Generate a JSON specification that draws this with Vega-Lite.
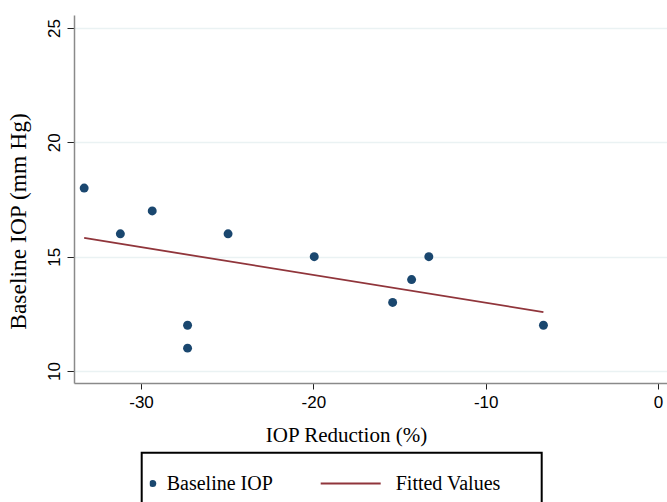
{
  "$schema": "https://vega.github.io/schema/vega-lite/v6.json",
  "width": 593,
  "height": 368,
  "autosize": {"type": "none"},
  "padding": {"left": 74, "top": 15, "right": 0, "bottom": 119},
  "background": "white",
  "config": {
    "view": {"stroke": null},
    "legend": {"strokeWidth": 2},
    "axis": {
      "labelColor": "black",
      "titleColor": "black",
      "titleFontWeight": "normal",
      "tickColor": "#222222",
      "domainColor": "#8a8a8a",
      "domainWidth": 1.5
    }
  },
  "data": {
    "values": [
      {"reduction": -33.3, "iop": 18},
      {"reduction": -31.2, "iop": 16},
      {"reduction": -29.35, "iop": 17},
      {"reduction": -27.3, "iop": 12},
      {"reduction": -27.3, "iop": 11},
      {"reduction": -24.95, "iop": 16},
      {"reduction": -19.95, "iop": 15},
      {"reduction": -15.4, "iop": 13},
      {"reduction": -14.3, "iop": 14},
      {"reduction": -13.3, "iop": 15},
      {"reduction": -6.65, "iop": 12}
    ]
  },
  "layer": [
    {
      "mark": {"type": "point", "filled": true, "size": 80, "opacity": 1},
      "encoding": {
        "x": {
          "field": "reduction",
          "type": "quantitative",
          "scale": {"domain": [-33.89, 0.52], "nice": false, "zero": false},
          "axis": {
            "title": "IOP Reduction (%)",
            "values": [-30, -20, -10, 0],
            "labelExpr": "replace(datum.label, '\u2212', '-')",
            "grid": false,
            "tickSize": 6,
            "labelFont": "Liberation Sans",
            "labelFontSize": 17,
            "labelPadding": 5,
            "titleFont": "Liberation Serif",
            "titleFontSize": 21,
            "titleX": 272,
            "titleY": 52,
            "titleAlign": "center",
            "titleBaseline": "middle"
          }
        },
        "y": {
          "field": "iop",
          "type": "quantitative",
          "scale": {"domain": [9.475, 25.57], "nice": false, "zero": false},
          "axis": {
            "title": "Baseline IOP (mm Hg)",
            "values": [10, 15, 20, 25],
            "grid": true,
            "gridColor": "#eaf2f3",
            "gridWidth": 1.5,
            "tickSize": 7,
            "labelFont": "Liberation Sans",
            "labelFontSize": 17,
            "labelAngle": -90,
            "labelAlign": "center",
            "labelBaseline": "bottom",
            "labelPadding": 4,
            "titleFont": "Liberation Serif",
            "titleFontSize": 23.5,
            "titleAngle": -90,
            "titleX": -56,
            "titleY": 206,
            "titleAlign": "center",
            "titleBaseline": "middle"
          }
        },
        "fill": {
          "datum": "Baseline IOP",
          "type": "nominal",
          "scale": {"domain": ["Baseline IOP"], "range": ["#1a476f"]},
          "legend": {
            "title": " ",
            "titleOrient": "right",
            "titleFontSize": 20,
            "titlePadding": 261,
            "orient": "none",
            "legendX": 67.7,
            "legendY": 437.7,
            "padding": 8,
            "strokeColor": "black",
            "clipHeight": 45.6,
            "symbolType": "circle",
            "symbolSize": 50,
            "symbolOffset": -7,
            "labelOffset": 4,
            "labelFont": "Liberation Serif",
            "labelFontSize": 20,
            "labelColor": "black",
            "labelLimit": 300
          }
        }
      }
    },
    {
      "transform": [{"regression": "iop", "on": "reduction"}],
      "mark": {"type": "line", "strokeWidth": 1.8},
      "encoding": {
        "x": {"field": "reduction", "type": "quantitative"},
        "y": {"field": "iop", "type": "quantitative"},
        "stroke": {
          "datum": "Fitted Values",
          "type": "nominal",
          "scale": {"domain": ["Fitted Values"], "range": ["#90353b"]},
          "legend": {
            "title": null,
            "orient": "none",
            "legendX": 245.7,
            "legendY": 445.7,
            "padding": 0,
            "clipHeight": 45.6,
            "symbolType": "stroke",
            "symbolSize": 3600,
            "symbolStrokeWidth": 2,
            "labelOffset": 14,
            "labelFont": "Liberation Serif",
            "labelFontSize": 20,
            "labelColor": "black",
            "labelLimit": 300
          }
        }
      }
    }
  ]
}
